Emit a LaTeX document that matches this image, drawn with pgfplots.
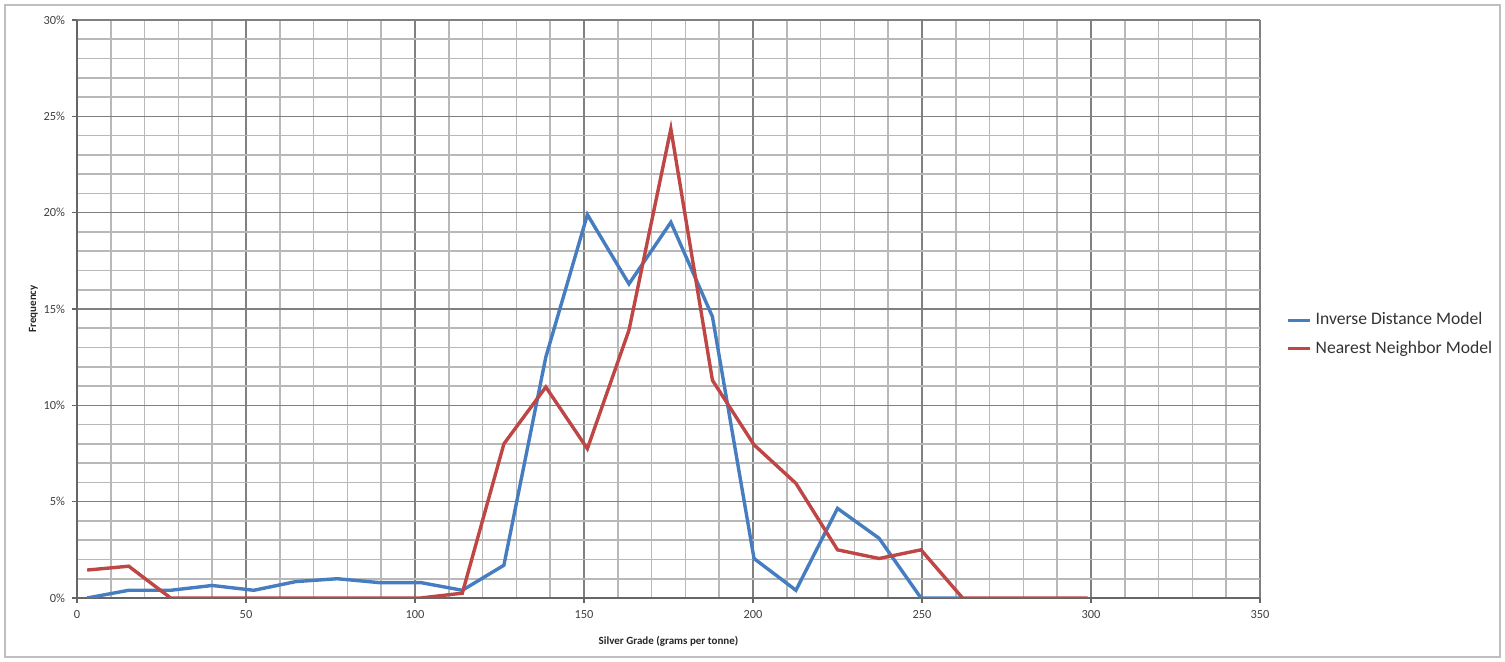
\documentclass[border=0pt]{standalone}
\usepackage{pgfplots}
\pgfplotsset{compat=1.18}
\usepackage{fontspec}
\setmainfont{Carlito}
\definecolor{idblue}{RGB}{70,125,192}
\definecolor{nnred}{RGB}{190,70,68}
\begin{document}
\begin{tikzpicture}[x=1pt,y=1pt]
\path[use as bounding box] (0,0) rectangle (752.5,331);
\draw[black!25, line width=1pt] (2.5,2.5) rectangle (750,328.5);
\begin{axis}[at={(38.5pt,32pt)}, anchor=south west, scale only axis,
  width=591.5pt, height=289pt,
  xmin=0, xmax=350, ymin=0, ymax=30,
  xtick={0,50,...,350}, ytick={0,5,...,30},
  minor x tick num=4, minor y tick num=4,
  grid=both,
  major grid style={black!50, line width=0.8pt},
  minor grid style={black!28, line width=0.8pt},
  axis lines*=left,
  axis line style={black!60, line width=0.9pt},
  tick align=outside, major tick length=2.5pt, minor tick length=0pt,
  tick style={black!60, line width=0.8pt},
  yticklabel={\pgfmathprintnumber{\tick}\%},
  /pgf/number format/assume math mode=true,
  tick label style={font=\fontsize{6.2}{7}\selectfont, text=black!75},
  xlabel={\textbf{Silver Grade (grams per tonne)}},
  ylabel={\textbf{Frequency}},
  label style={font=\fontsize{5.5}{6}\selectfont, text=black!85},
  xlabel style={yshift=-2pt},
  ylabel style={yshift=-4pt},
  legend style={at={(1.022,0.456)}, anchor=west, draw=none, fill=none,
    font=\fontsize{8.8}{10}\selectfont, text=black!80, row sep=2.5pt,
    inner sep=0pt},
  legend cell align=left,
  legend image code/.code={\draw[#1, line width=1.6pt] (0pt,0pt) -- (11pt,0pt);},
  every axis plot/.append style={line width=1.7pt, mark=none},
]
\addplot[idblue] coordinates {
(3,0) (15.3,0.4) (27.7,0.4) (40,0.65) (52.3,0.4) (64.7,0.85) (77,1.0)
(89.3,0.8) (101.7,0.8) (114,0.4) (126.3,1.7) (138.7,12.5) (151,19.9)
(163.3,16.3) (175.7,19.5) (188,14.6) (200.3,2.05) (212.7,0.4) (225,4.65)
(237.3,3.1) (249.7,0) (262,0)
};
\addlegendentry{Inverse Distance Model}
\addplot[nnred] coordinates {
(3,1.45) (15.3,1.65) (27.7,0) (40,0) (52.3,0) (64.7,0) (77,0)
(89.3,0) (101.7,0) (114,0.25) (126.3,8.0) (138.7,10.95) (151,7.75)
(163.3,13.9) (175.7,24.35) (188,11.3) (200.3,7.95) (212.7,5.95) (225,2.5)
(237.3,2.05) (249.7,2.5) (262,0) (274.3,0) (286.7,0) (299,0)
};
\addlegendentry{Nearest Neighbor Model}
\end{axis}
\end{tikzpicture}
\end{document}
